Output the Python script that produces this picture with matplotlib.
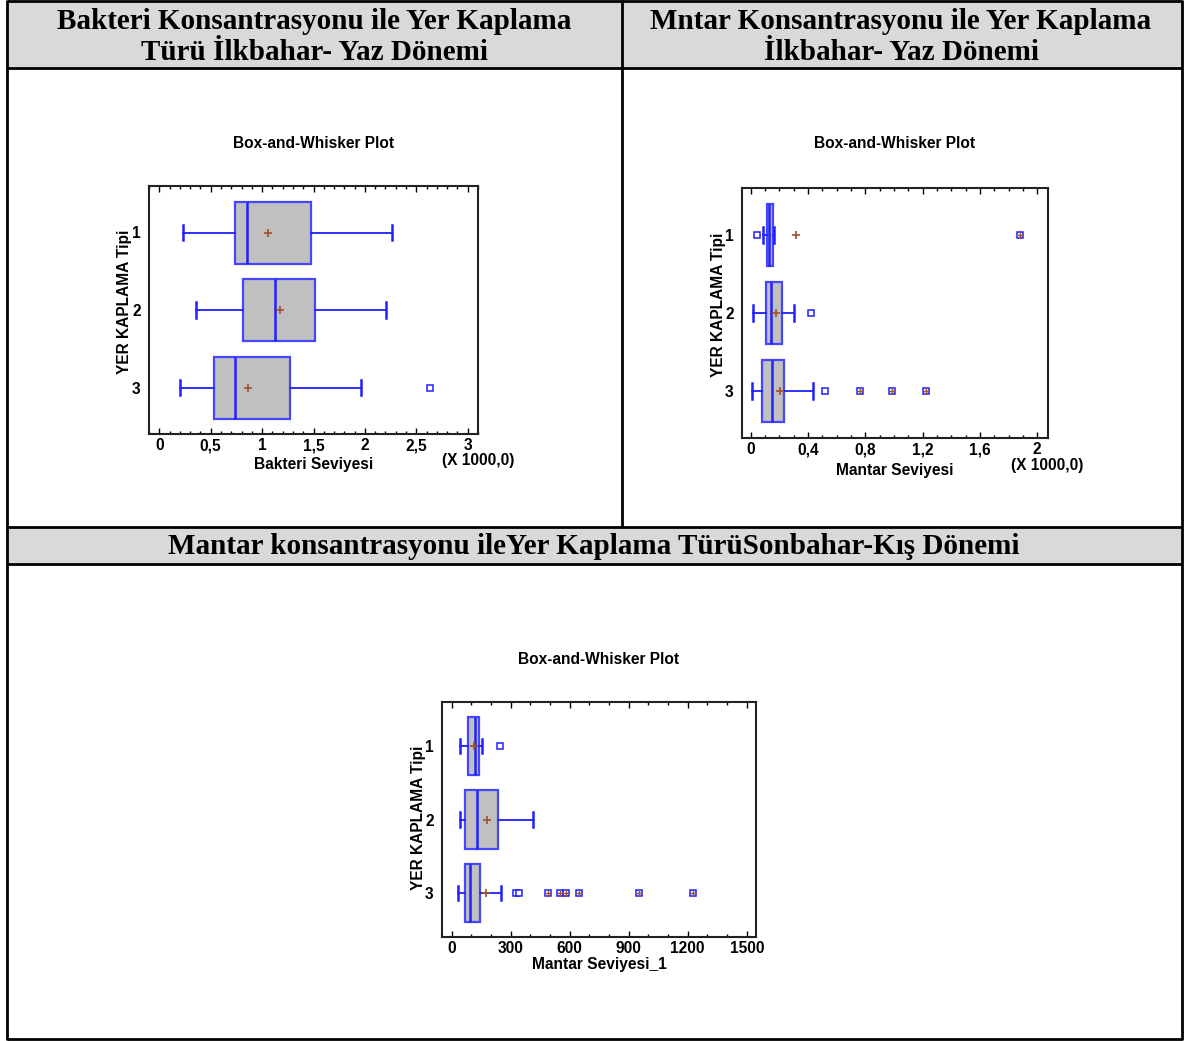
import matplotlib
matplotlib.use("Agg")
import matplotlib.pyplot as plt
from matplotlib.patches import Rectangle
from matplotlib.ticker import FixedLocator, FixedFormatter, MultipleLocator

W, H = 1189, 1041
DPI = 100

# ---------------- data ----------------
groups = [1, 2, 3]
group_labels = ["1", "2", "3"]

# Bacteria level, spring-summer (x 1000)
bak_whislo = [0.233, 0.359, 0.200]
bak_q1 = [0.734, 0.811, 0.530]
bak_med = [0.857, 1.128, 0.740]
bak_q3 = [1.478, 1.513, 1.271]
bak_whishi = [2.266, 2.208, 1.962]
bak_mean = [1.057, 1.177, 0.863]
bak_out = [[], [], [2.629]]
bak_far = [[], [], []]
bak_ticks = [0, 0.5, 1, 1.5, 2, 2.5, 3]
bak_ticklabels = ["0", "0,5", "1", "1,5", "2", "2,5", "3"]

# Fungus level, spring-summer (x 1000)
man_whislo = [0.084, 0.016, 0.007]
man_q1 = [0.117, 0.104, 0.081]
man_med = [0.131, 0.143, 0.150]
man_q3 = [0.158, 0.219, 0.231]
man_whishi = [0.163, 0.300, 0.432]
man_mean = [0.319, 0.178, 0.206]
man_out = [[0.047], [0.418], [0.522]]
man_far = [[1.878], [], [0.762, 0.984, 1.222]]
man_ticks = [0, 0.4, 0.8, 1.2, 1.6, 2.0]
man_ticklabels = ["0", "0,4", "0,8", "1,2", "1,6", "2"]

# Fungus level, autumn-winter
son_whislo = [40.7, 44.0, 30.5]
son_q1 = [83.0, 69.5, 66.1]
son_med = [118.6, 130.5, 94.9]
son_q3 = [140.7, 237.3, 144.0]
son_whishi = [152.5, 413.6, 250.8]
son_mean = [115.0, 181.4, 176.3]
son_out = [[247.5], [], [327.0, 344.0]]
son_far = [[], [], [490.0, 549.0, 583.0, 646.0, 952.0, 1228.0]]
son_ticks = [0, 300, 600, 900, 1200, 1500]
son_ticklabels = ["0", "300", "600", "900", "1200", "1500"]

# ---------------- styles ----------------
SANS = ["Liberation Sans", "DejaVu Sans"]
SERIF = ["Liberation Serif", "DejaVu Serif"]
BLUE = "#1f1fff"
BOXEDGE = "#4646ff"
BROWN = "#a0522d"
GRAY = "#c0c0c0"
HEADER = "#d9d9d9"
FS = 11.2

fig = plt.figure(figsize=(W / DPI, H / DPI), dpi=DPI)
fig.patch.set_facecolor("white")

# table frame drawn in pixel coordinates
bg = fig.add_axes([0, 0, 1, 1])
bg.set_xlim(0, W)
bg.set_ylim(H, 0)
bg.axis("off")
bg.add_patch(Rectangle((7, 1), 1175, 67, facecolor=HEADER, edgecolor="none"))
bg.add_patch(Rectangle((7, 527), 1175, 37, facecolor=HEADER, edgecolor="none"))
lw = 2.0
for (x0, y0, x1, y1) in [
    (6.5, 0.5, 1181.5, 0.5), (6.5, 68, 1181.5, 68),
    (6.5, 527, 1181.5, 527), (6.5, 564, 1181.5, 564),
    (6.5, 1038.5, 1181.5, 1038.5),
    (6.5, 0, 6.5, 1039.5), (1181.5, 0, 1181.5, 1039.5),
    (621.5, 0, 621.5, 527),
]:
    bg.plot([x0, x1], [y0, y1], color="black", lw=lw, solid_capstyle="butt")

hdr = dict(family=SERIF, fontweight="bold", fontsize=21.0, ha="center", va="center")
bg.text(314, 21.5, "Bakteri Konsantrasyonu ile Yer Kaplama", **hdr)
bg.text(314, 52.5, "Türü İlkbahar- Yaz Dönemi", **hdr)
bg.text(901, 21.5, "Mntar Konsantrasyonu ile Yer Kaplama", **hdr)
bg.text(901, 52.5, "İlkbahar- Yaz Dönemi", **hdr)
bg.text(594, 547, "Mantar konsantrasyonu ileYer Kaplama TürüSonbahar-Kış Dönemi", **hdr)


def px_axes(left, top, right, bottom):
    return fig.add_axes([left / W, 1 - bottom / H, (right - left) / W, (bottom - top) / H])


def draw_box(ax, whislo, q1, med, q3, whishi, mean, outside, far,
             xlim, ticks, ticklabels, minor, xlabel):
    stats = []
    for i in range(len(groups)):
        stats.append(dict(whislo=whislo[i], q1=q1[i], med=med[i], q3=q3[i],
                          whishi=whishi[i], mean=mean[i], fliers=outside[i]))
    ax.bxp(stats, positions=groups, widths=0.8, capwidths=0.2,
           orientation="horizontal", patch_artist=True, showmeans=True,
           boxprops=dict(facecolor=GRAY, edgecolor=BOXEDGE, linewidth=1.6),
           medianprops=dict(color=BLUE, linewidth=1.8),
           whiskerprops=dict(color=BLUE, linewidth=1.3),
           capprops=dict(color=BLUE, linewidth=1.8),
           meanprops=dict(marker="+", markeredgecolor=BROWN, markersize=5.5,
                          markeredgewidth=1.2, linestyle="none"),
           flierprops=dict(marker="s", markerfacecolor="white",
                           markeredgecolor=BLUE, markersize=4, markeredgewidth=1.1))
    for g, vals in zip(groups, far):
        if vals:
            ax.plot(vals, [g] * len(vals), linestyle="none", marker="s",
                    markerfacecolor="white", markeredgecolor=BLUE,
                    markersize=4, markeredgewidth=1.1, zorder=4)
            ax.plot(vals, [g] * len(vals), linestyle="none", marker="+",
                    markeredgecolor=BROWN, markersize=4, markeredgewidth=1.0, zorder=5)
    ax.set_xlim(*xlim)
    ax.set_ylim(3.6, 0.4)
    ax.xaxis.set_major_locator(FixedLocator(ticks))
    ax.xaxis.set_major_formatter(FixedFormatter(ticklabels))
    ax.xaxis.set_minor_locator(MultipleLocator(minor))
    ax.set_yticks(groups)
    ax.set_yticklabels(group_labels)
    ax.tick_params(axis="x", which="both", direction="in", top=True, bottom=True,
                   width=1.0, color="black")
    ax.tick_params(axis="x", which="major", length=4, pad=3)
    ax.tick_params(axis="x", which="minor", length=2.5)
    ax.tick_params(axis="y", length=0, pad=6)
    for lab in ax.get_xticklabels() + ax.get_yticklabels():
        lab.set_fontfamily(SANS)
        lab.set_fontweight("bold")
        lab.set_fontsize(FS)
    for s in ax.spines.values():
        s.set_linewidth(1.5)
        s.set_color("#222222")
    ax.set_xlabel(xlabel, family=SANS, fontweight="bold", fontsize=FS, va="center")
    ax.set_ylabel("YER KAPLAMA Tipi", family=SANS, fontweight="bold", fontsize=FS,
                  va="center")


def set_label_px(ax, left, top, right, bottom, xl_y, yl_x, yl_y, title_y):
    w, h = right - left, bottom - top
    ax.xaxis.set_label_coords(0.5, -(xl_y - bottom) / h)
    ax.yaxis.set_label_coords(-(left - yl_x) / w, (bottom - yl_y) / h)
    ax.text(0.5, 1 + (top - title_y) / h, "Box-and-Whisker Plot",
            transform=ax.transAxes, family=SANS, fontweight="bold",
            fontsize=FS, ha="center", va="center")


# top-left: bacteria
L, T, R, B = 149, 186, 478, 434
ax1 = px_axes(L, T, R, B)
draw_box(ax1, bak_whislo, bak_q1, bak_med, bak_q3, bak_whishi, bak_mean,
         bak_out, bak_far, (-0.1, 3.1), bak_ticks, bak_ticklabels, 0.1,
         "Bakteri Seviyesi")
set_label_px(ax1, L, T, R, B, 464, 124, 302, 143)
fig.text(478 / W, 1 - 460 / H, "(X 1000,0)", family=SANS, fontweight="bold",
         fontsize=FS, ha="center", va="center")

# top-right: fungus spring-summer
L, T, R, B = 742, 188, 1048, 438
ax2 = px_axes(L, T, R, B)
draw_box(ax2, man_whislo, man_q1, man_med, man_q3, man_whishi, man_mean,
         man_out, man_far, (-0.06, 2.075), man_ticks, man_ticklabels, 0.1,
         "Mantar Seviyesi")
set_label_px(ax2, L, T, R, B, 470, 718, 305, 144)
fig.text(1047 / W, 1 - 465 / H, "(X 1000,0)", family=SANS, fontweight="bold",
         fontsize=FS, ha="center", va="center")

# bottom: fungus autumn-winter
L, T, R, B = 442, 702, 756, 937
ax3 = px_axes(L, T, R, B)
draw_box(ax3, son_whislo, son_q1, son_med, son_q3, son_whishi, son_mean,
         son_out, son_far, (-49, 1547), son_ticks, son_ticklabels, 100,
         "Mantar Seviyesi_1")
set_label_px(ax3, L, T, R, B, 964, 419, 818, 660)

fig.savefig("out.png", dpi=DPI, facecolor="white")
